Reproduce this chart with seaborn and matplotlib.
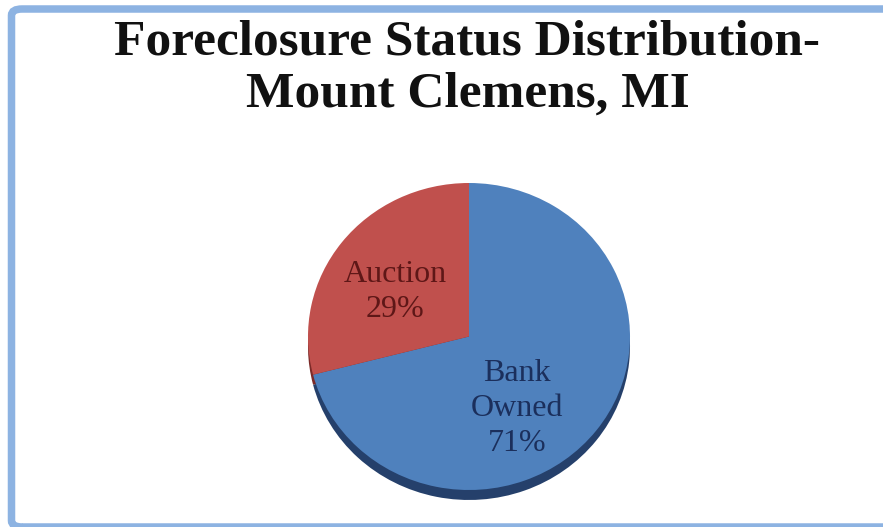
import matplotlib.pyplot as plt
import seaborn as sns
from matplotlib.patches import FancyBboxPatch

# chart data
statuses = ["Bank\nOwned", "Auction"]
shares = [71, 29]
title = "Foreclosure Status Distribution-\nMount Clemens, MI"

top_colors = ["#4f81bd", "#c0504d"]
rim_colors = ["#25406b", "#7b2a28"]
label_colors = ["#1b2f5c", "#5e1717"]
# small nudges of the data labels inside their wedges (data units)
label_nudge = [(-0.135, -0.13), (-0.025, -0.047)]

sns.set_theme(style="white")
plt.rcParams["font.family"] = ["Liberation Serif", "DejaVu Serif"]

W, H = 883, 527
fig = plt.figure(figsize=(W / 100, H / 100), dpi=100)

# light blue frame around the chart area (right side runs off the image)
frame = FancyBboxPatch(
    (11.5 / W, 0.0), 900 / W, (H - 9) / H,
    boxstyle="round,pad=0,rounding_size=0.012",
    transform=fig.transFigure, facecolor="none",
    edgecolor="#8db3e2", linewidth=5.4, clip_on=False,
)
fig.patches.append(frame)

# baseline of the last title line sits at about y=107 px
fig.text(
    467.5 / W, 1 - 107 / H, title,
    ha="center", va="baseline", fontsize=37, fontweight="bold",
    color="#111111", linespacing=1.19,
)

# pie axes: top surface spans x 308..630, y 183..490 (pixels)
rx, ry = 161, 153.5
cx, cy = 469, H - 336.5
ax = fig.add_axes([
    (cx - 1.02 * rx) / W, (cy - 1.12 * ry) / H,
    2.04 * rx / W, 2.14 * ry / H,
])

# darker rim below to give the slight 3D look
ax.pie(
    shares, colors=rim_colors, startangle=90, counterclock=False,
    center=(0, -0.065), wedgeprops=dict(linewidth=0),
)
wedges, _, pct_texts = ax.pie(
    shares, colors=top_colors, startangle=90, counterclock=False,
    autopct=lambda p: f"{p:.0f}%", pctdistance=0.55,
    wedgeprops=dict(linewidth=0),
)
for t, name, share, col, (dx, dy) in zip(
    pct_texts, statuses, shares, label_colors, label_nudge
):
    t.set_text(f"{name}\n{share}%")
    t.set_fontsize(23)
    t.set_color(col)
    t.set_linespacing(1.28)
    x, y = t.get_position()
    t.set_position((x + dx, y + dy))

ax.set_aspect("auto")
ax.set_xlim(-1.02, 1.02)
ax.set_ylim(-1.12, 1.02)
ax.axis("off")

fig.savefig("out.png", dpi=100, facecolor="white")
